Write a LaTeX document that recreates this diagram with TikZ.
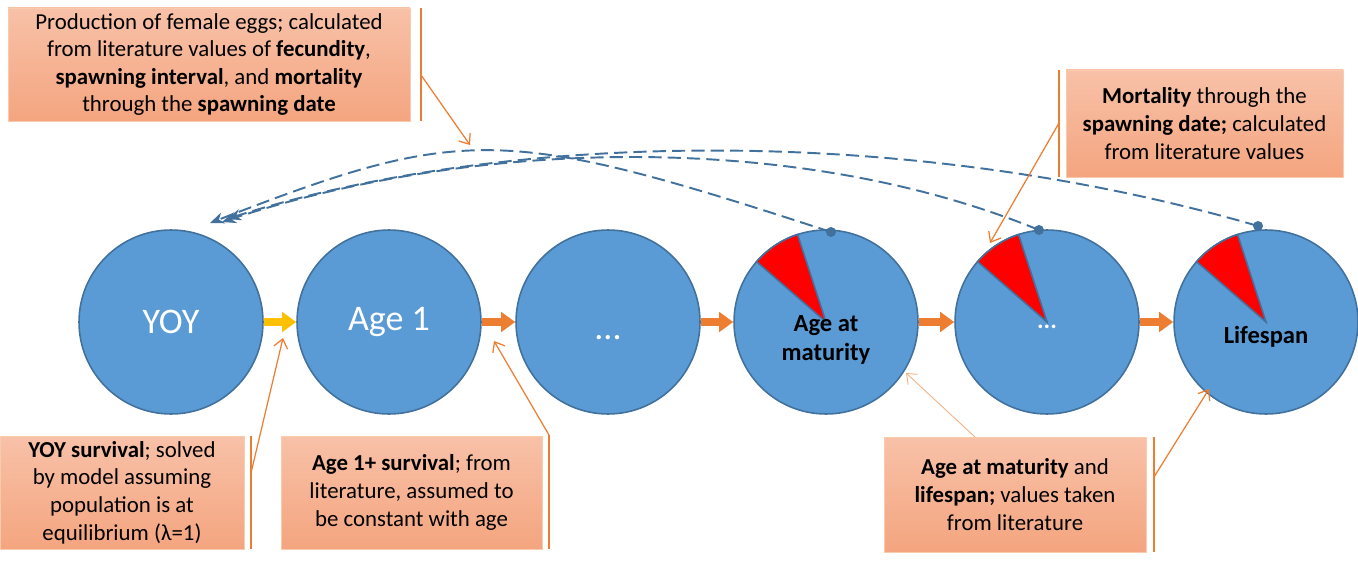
\documentclass[tikz,border=0pt]{standalone}
\usepackage{fontspec}
\setmainfont{Carlito}
\usetikzlibrary{arrows.meta,calc}
\definecolor{cfill}{HTML}{5B9BD5}
\definecolor{cline}{HTML}{41719C}
\definecolor{corange}{HTML}{ED7D31}
\definecolor{cgold}{HTML}{FFC000}
\definecolor{boxtop}{HTML}{F8C1A8}
\definecolor{boxbot}{HTML}{F4A57F}
\definecolor{boxedge}{HTML}{F8CBAD}
\definecolor{leaderlight}{HTML}{F4B183}
\begin{document}
\begin{tikzpicture}[x=0.02cm,y=0.02cm,
  stage/.style={circle,fill=cfill,draw=cline,line width=0.9pt,minimum size=3.68cm,inner sep=0pt},
  flow/.style={line width=4.4pt,-{Triangle[length=8pt,width=11pt]}},
  feed/.style={cline,line width=1.1pt,dash pattern=on 7.5pt off 3.5pt,-{Stealth[length=8pt,width=6.5pt]}},
  dotnode/.style={circle,fill=cline,inner sep=0pt,minimum size=0.2cm},
  callout/.style={top color=boxtop,bottom color=boxbot,draw=boxedge,line width=0.5pt,align=center,inner sep=0pt,font=\fontsize{13}{15.7}\selectfont},
  leader/.style={corange,line width=0.7pt},
  leadarrow/.style={leader,-{Straight Barb[length=5pt,width=8pt]}},
  wedge/.style={fill=red,draw=cline,line width=0.9pt},
  bigtext/.style={text=white,font=\fontsize{20.5}{24}\selectfont},
  boldtext/.style={font=\fontsize{14}{16}\selectfont\bfseries,align=center}
]
\useasboundingbox (0,0) rectangle (1358,562);

% stages
\node[stage] (yoy)  at (171,240) {};
\node[stage] (age1) at (389,240) {};
\node[stage] (mid)  at (608,240) {};
\node[stage] (mat)  at (826,240) {};
\node[stage] (post) at (1047,240) {};
\node[stage] (life) at (1266,240) {};

% red mortality wedges
\foreach \c in {mat,post,life}{
  \draw[wedge] (\c.center) -- ($(\c.center)+(108:92)$) arc (108:139:92) -- cycle;
}

% texts inside stages
\node[bigtext] (tyoy) at (171,240) {YOY};
\node[bigtext] (tage1) at (389,240) {Age 1};
\node[bigtext] (tmid) at (608,224) {...};
\node[boldtext] (tmat) at (826,222) {Age at\\maturity};
\node[boldtext,text=white] (tpost) at (1047,235) {...};
\node[boldtext] (tlife) at (1266,225) {Lifespan};

% flow arrows
\draw[flow,cgold] (yoy) -- (age1);
\draw[flow,corange] (age1) -- (mid);
\draw[flow,corange] (mid) -- (mat);
\draw[flow,corange] (mat) -- (post);
\draw[flow,corange] (post) -- (life);

% reproduction dots and dashed feedback
\node[dotnode] (dmat)  at (831,330) {};
\node[dotnode] (dpost) at (1039,332) {};
\node[dotnode] (dlife) at (1258,336) {};
\coordinate (e1) at (210,339);
\coordinate (e2) at (222,340);
\coordinate (e3) at (227,343);
\draw[feed] (dmat.center) .. controls (503,437) and (463,437) .. (e1);
\draw[feed] (dpost.center) .. controls (800,430) and (480,425) .. (e2);
\draw[feed] (dlife.center) .. controls (900,440) and (500,430) .. (e3);

% callout boxes
\node[callout,minimum width=402*0.02cm,minimum height=113*0.02cm] (b1) at (209,497.5)
  {Production of female eggs; calculated\\ from literature values of \textbf{fecundity},\\ \textbf{spawning interval}, and \textbf{mortality}\\ through the \textbf{spawning date}};
\node[callout,minimum width=277*0.02cm,minimum height=107*0.02cm] (b2) at (1204.5,438.5)
  {\textbf{Mortality} through the\\ \textbf{spawning date;} calculated\\ from literature values};
\node[callout,minimum width=244*0.02cm,minimum height=113*0.02cm] (b3) at (122,69.5)
  {\textbf{YOY survival}; solved\\ by model assuming\\ population is at\\ equilibrium (λ=1)};
\node[callout,minimum width=261*0.02cm,minimum height=113*0.02cm] (b4) at (411.5,69.5)
  {\textbf{Age 1+ survival}; from\\ literature, assumed to\\ be constant with age};
\node[callout,minimum width=262*0.02cm,minimum height=115*0.02cm] (b5) at (1015,67.5)
  {\textbf{Age at maturity} and\\ \textbf{lifespan;} values taken\\ from literature};

% accent bars
\coordinate (a1t) at (421,554); \coordinate (a1b) at (421,441);
\coordinate (a2t) at (1059,492); \coordinate (a2b) at (1059,385);
\coordinate (a3t) at (251,126); \coordinate (a3b) at (251,13);
\coordinate (a4t) at (549,127); \coordinate (a4b) at (549,13);
\coordinate (a5t) at (1154,125); \coordinate (a5b) at (1154,10);
\draw[leader] (a1t) -- (a1b);
\draw[leader] (a2t) -- (a2b);
\draw[leader] (a3t) -- (a3b);
\draw[leader] (a4t) -- (a4b);
\draw[leader] (a5t) -- (a5b);

% leader lines
\coordinate (l1s) at (421,487); \coordinate (l1e) at (470,417);
\coordinate (l2s) at (1059,439); \coordinate (l2e) at (990,319);
\coordinate (l3s) at (251,89); \coordinate (l3e) at (283,224);
\coordinate (l4e) at (494,221);
\coordinate (l5s) at (1154,85); \coordinate (l5e) at (1209,173);
\coordinate (l6s) at (975,125); \coordinate (l6e) at (906,189);
\draw[leadarrow] (l1s) -- (l1e);
\draw[leadarrow] (l2s) -- (l2e);
\draw[leadarrow] (l3s) -- (l3e);
\draw[leadarrow] (a4t) -- (l4e);
\draw[leadarrow] (l5s) -- (l5e);
\draw[leadarrow,leaderlight,line width=0.5pt] (l6s) -- (l6e);
\end{tikzpicture}
\end{document}
